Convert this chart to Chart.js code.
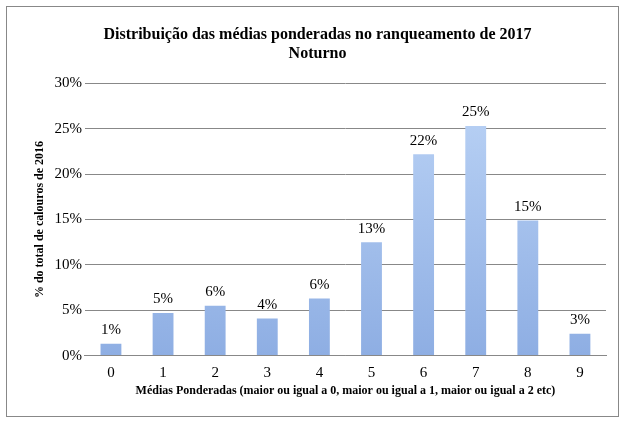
<!DOCTYPE html>
<html>
<head>
<meta charset="utf-8">
<script src="https://cdn.jsdelivr.net/npm/chart.js@4"></script>
<style>
  body { margin: 0; background: #fff; }
  #wrap { position: absolute; left: 6px; top: 6px; width: 613px; height: 411px; border: 1px solid #888; box-sizing: border-box; }
</style>
</head>
<body>
<div id="wrap"><canvas id="chart"></canvas></div>
<script>
// chart data
const categories = ["0", "1", "2", "3", "4", "5", "6", "7", "8", "9"];
const values = [1.3, 4.7, 5.5, 4.1, 6.3, 12.5, 22.2, 25.3, 14.9, 2.4];
const valueLabels = ["1%", "5%", "6%", "4%", "6%", "13%", "22%", "25%", "15%", "3%"];

const serif = "'Liberation Serif', 'DejaVu Serif', serif";

// draw the % labels above each bar
const topLabels = {
  id: "topLabels",
  afterDatasetsDraw(chart) {
    const ctx = chart.ctx;
    const meta = chart.getDatasetMeta(0);
    ctx.save();
    ctx.font = "15px " + serif;
    ctx.fillStyle = "#000";
    ctx.textAlign = "center";
    ctx.textBaseline = "bottom";
    meta.data.forEach((bar, i) => {
      ctx.fillText(valueLabels[i], bar.x, bar.y - 6);
    });
    ctx.restore();
  },
};

const ctx = document.getElementById("chart").getContext("2d");
new Chart(ctx, {
  type: "bar",
  data: {
    labels: categories,
    datasets: [
      {
        data: values,
        backgroundColor: function (c) {
          const area = c.chart.chartArea;
          if (!area) return "#a9c4ec";
          const g = c.chart.ctx.createLinearGradient(0, area.top, 0, area.bottom);
          g.addColorStop(0, "#bcd4f6");
          g.addColorStop(1, "#8eaee3");
          return g;
        },
        barPercentage: 0.4,
        categoryPercentage: 1,
      },
    ],
  },
  options: {
    responsive: true,
    maintainAspectRatio: false,
    animation: false,
    layout: { padding: { left: 22, right: 12, top: 4, bottom: 14 } },
    plugins: {
      legend: { display: false },
      tooltip: { enabled: false },
      title: {
        display: true,
        text: ["Distribuição das médias ponderadas no ranqueamento de 2017", "Noturno"],
        font: { family: serif, size: 16, weight: "bold" },
        color: "#000",
        padding: { top: 14, bottom: 20 },
        lineHeight: 1.15,
      },
    },
    scales: {
      x: {
        grid: { display: false },
        border: { color: "#888" },
        ticks: { color: "#000", font: { family: serif, size: 15 }, padding: 0 },
        title: {
          display: true,
          text: "Médias Ponderadas (maior ou igual a 0, maior ou igual a 1, maior ou igual a 2 etc)",
          font: { family: serif, size: 12, weight: "bold" },
          color: "#000",
          padding: { top: 2 },
        },
      },
      y: {
        min: 0,
        max: 30,
        ticks: {
          stepSize: 5,
          color: "#000",
          font: { family: serif, size: 15 },
          callback: (v) => v + "%",
        },
        grid: { color: "#888", drawTicks: false },
        border: { display: false },
        title: {
          display: true,
          text: "% do total de calouros de 2016",
          font: { family: serif, size: 12, weight: "bold" },
          color: "#000",
        },
      },
    },
  },
  plugins: [topLabels],
});
</script>
</body>
</html>
